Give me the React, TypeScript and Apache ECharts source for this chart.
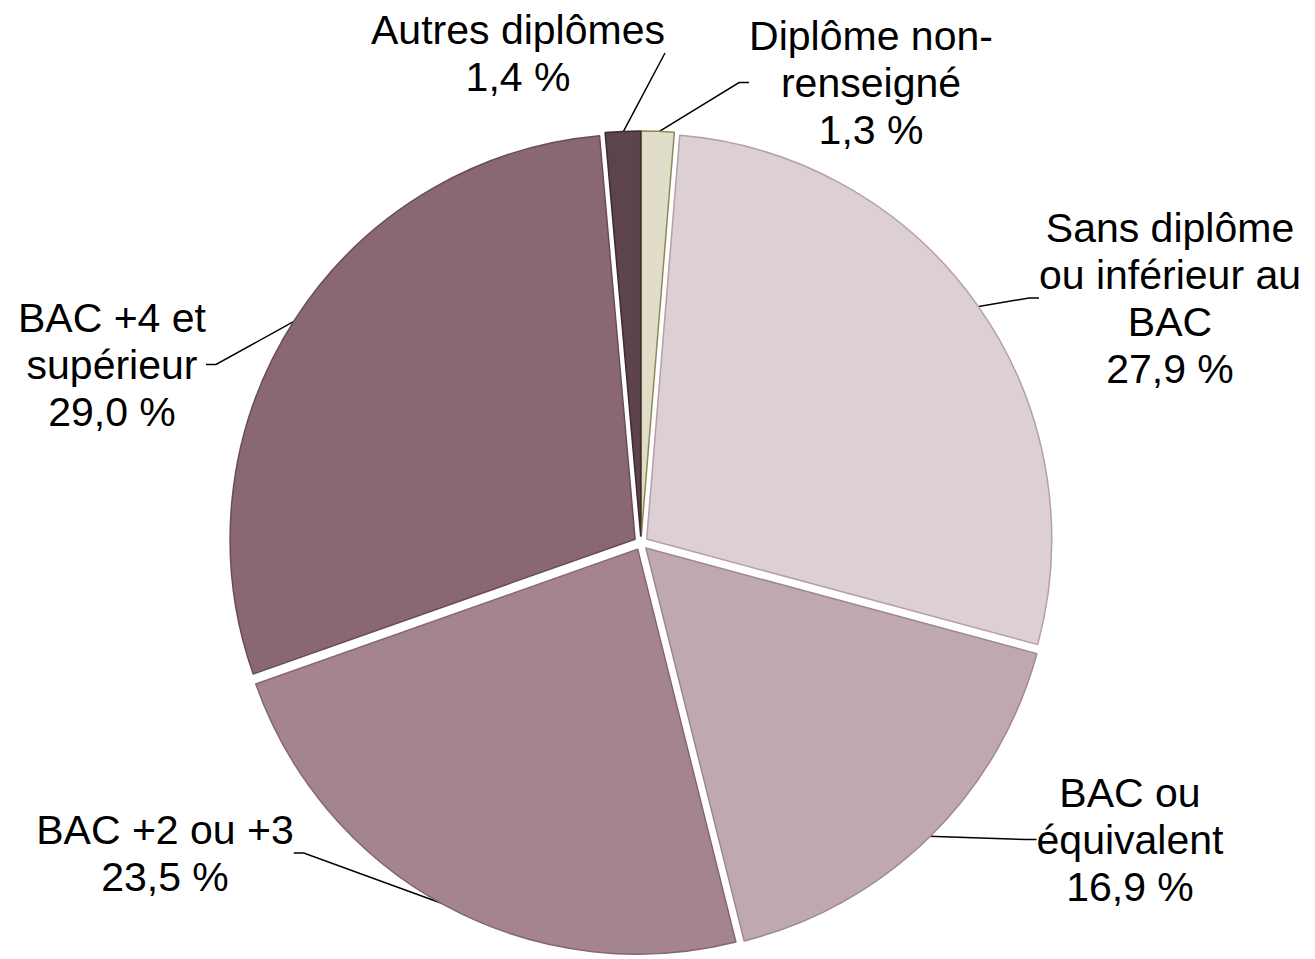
import React, { useEffect, useRef } from "react";
import * as echarts from "echarts";

const categories = [
  "Diplôme non-\nrenseigné",
  "Sans diplôme\nou inférieur au\nBAC",
  "BAC ou\néquivalent",
  "BAC +2 ou +3",
  "BAC +4 et\nsupérieur",
  "Autres diplômes",
];
const shares = [1.3, 27.9, 16.9, 23.5, 29.0, 1.4];
const fills = ["#e0ddc8", "#dcd0d5", "#bfa8b2", "#a3848f", "#8a6873", "#5c434c"];
const borders = ["#8e8a58", "#b89ea8", "#a08791", "#86666f", "#6a4c56", "#3e2a32"];

// label anchor: [centerX, topY]
const labelAnchors: [number, number][] = [
  [871, 12],
  [1170, 204],
  [1130, 769],
  [165, 806],
  [112, 294],
  [518, 6],
];

export default function App() {
  const ref = useRef<HTMLDivElement>(null);
  useEffect(() => {
    document.body.style.margin = "0";
    const chart = echarts.init(ref.current!, undefined, { renderer: "svg" });
    chart.setOption({
      animation: false,
      backgroundColor: "#ffffff",
      series: [
        {
          type: "pie",
          center: [641, 543],
          radius: 405,
          startAngle: 90,
          clockwise: true,
          selectedMode: "multiple",
          selectedOffset: 7,
          silent: true,
          label: { show: false },
          labelLine: { show: false },
          data: categories.map((c, i) => ({
            name: c,
            value: shares[i],
            selected: true,
            itemStyle: { color: fills[i], borderColor: borders[i], borderWidth: 1.5 },
            select: { itemStyle: { color: fills[i], borderColor: borders[i], borderWidth: 1.5 } },
          })),
        },
        {
          type: "pie",
          center: [641, 543],
          radius: 411,
          startAngle: 90,
          clockwise: true,
          silent: true,
          avoidLabelOverlap: false,
          itemStyle: { color: "rgba(0,0,0,0)" },
          data: categories.map((c, i) => ({ name: c, value: shares[i] })),
          label: {
            show: true,
            position: "outside",
            color: "#000",
            fontFamily: "Liberation Sans, Arial, sans-serif",
            fontSize: 41,
            lineHeight: 47,
            formatter: (p: any) =>
              p.name + "\n" + Number(p.value).toFixed(1).replace(".", ",") + " %",
          },
          labelLine: {
            show: true,
            length: 10,
            length2: 10,
            smooth: false,
            lineStyle: { color: "#000", width: 1.5 },
          },
          labelLayout: (p: any) => {
            const a = labelAnchors[p.dataIndex];
            return { x: a[0], y: a[1], align: "center", verticalAlign: "top" };
          },
        },
      ],
    });
    return () => chart.dispose();
  }, []);
  return (
    <div
      ref={ref}
      style={{ position: "absolute", left: 0, top: 0, width: 1315, height: 959 }}
    />
  );
}
